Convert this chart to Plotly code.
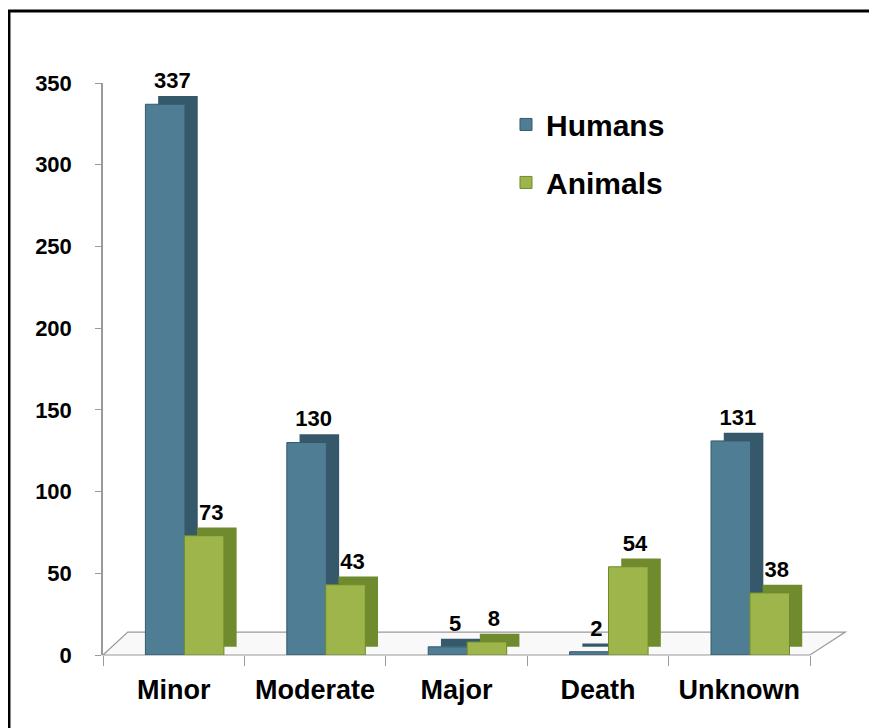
import plotly.graph_objects as go

categories = ["Minor", "Moderate", "Major", "Death", "Unknown"]
humans = [337, 130, 5, 2, 131]
animals = [73, 43, 8, 54, 38]

HUMAN_COLOR = "#4e7d94"
HUMAN_SIDE = "#35596b"
ANIMAL_COLOR = "#9db54a"
ANIMAL_SIDE = "#6f8b2d"
FONT = "Arial, Liberation Sans, sans-serif"

BAR_W = 0.28      # front face width, in category units
DEPTH_X = 0.09    # fake 3d depth to the right
DEPTH_Y = 5       # fake 3d depth upwards (data units)

OFFSETS = {"Humans": -0.2, "Animals": 0.075}


def add_series(name, values, front, side):
    off = OFFSETS[name]
    # darker block behind the front face gives the side/top face of the 3d bar
    fig.add_trace(go.Bar(
        name=name, x=categories, y=values, base=DEPTH_Y,
        width=BAR_W, offset=off + DEPTH_X,
        marker=dict(color=side, line=dict(width=0)),
        showlegend=False, hoverinfo="skip",
    ))
    fig.add_trace(go.Bar(
        name=name, x=categories, y=values,
        width=BAR_W, offset=off,
        marker=dict(color=front, line=dict(color=side, width=1)),
        legendgroup=name,
    ))


def add_labels(name, values):
    # invisible bars that only carry the value labels, drawn on top of everything
    fig.add_trace(go.Bar(
        name=name, x=categories, y=values, base=DEPTH_Y,
        width=BAR_W, offset=OFFSETS[name] + 0.05,
        marker=dict(color="rgba(0,0,0,0)", line=dict(width=0)),
        text=values, textposition="outside", cliponaxis=False,
        textfont=dict(size=22, color="black", family=FONT, weight="bold"),
        showlegend=False, hoverinfo="skip",
    ))


fig = go.Figure()
add_series("Humans", humans, HUMAN_COLOR, HUMAN_SIDE)
add_series("Animals", animals, ANIMAL_COLOR, ANIMAL_SIDE)
add_labels("Humans", humans)
add_labels("Animals", animals)

# floor of the pseudo-3d plot area
fig.add_shape(
    type="path", xref="paper", yref="paper",
    path="M 0 0 L 0.035 0.04 L 1.05 0.04 L 1.0 0 Z",
    line=dict(color="#9a9a9a", width=1.2), fillcolor="rgba(240,240,240,0.4)",
    layer="below",
)
# outer black frame (runs off the right and bottom edge like the source)
fig.add_shape(
    type="rect", xref="paper", yref="paper",
    x0=-0.133, y0=-0.3, x1=1.3, y1=1.126,
    line=dict(color="black", width=3),
)

fig.update_layout(
    width=877, height=728,
    margin=dict(l=95, r=75, t=75, b=81),
    paper_bgcolor="white", plot_bgcolor="white",
    barmode="overlay",
    font=dict(family=FONT, color="black"),
    showlegend=True,
    legend=dict(
        x=0.57, y=0.973, xanchor="left", yanchor="top",
        font=dict(size=30, family=FONT, weight="bold"),
        tracegroupgap=16, traceorder="grouped",
        bgcolor="rgba(0,0,0,0)",
    ),
)
fig.update_xaxes(
    showline=False, showgrid=False,
    ticks="outside", tickson="boundaries", ticklen=10, tickcolor="#9a9a9a",
    tickfont=dict(size=27, family=FONT, weight="bold"),
    ticklabelstandoff=16,
)
fig.update_yaxes(
    range=[0, 350], dtick=50, showgrid=False,
    showline=True, linecolor="#9a9a9a", linewidth=1.5,
    ticks="outside", ticklen=6, tickcolor="#9a9a9a",
    tickfont=dict(size=22, family=FONT, weight="bold"),
    ticklabelstandoff=19,
    zeroline=False,
)

fig.write_html("out.html")
